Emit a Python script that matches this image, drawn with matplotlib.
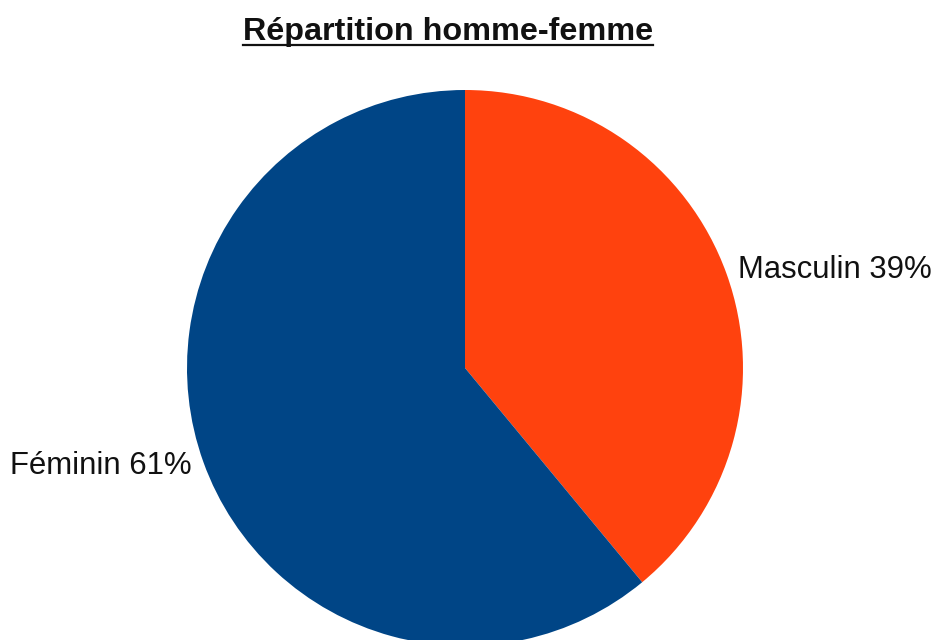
import numpy as np
import matplotlib.pyplot as plt
from matplotlib.lines import Line2D

plt.rcParams['font.family'] = ['Liberation Sans', 'DejaVu Sans']

categories = ['Masculin', 'Féminin']
shares = [39, 61]
colors = ['#ff420e', '#004586']
title = 'Répartition homme-femme'

fig = plt.figure(figsize=(9.36, 6.4), dpi=100)
ax = fig.add_axes([0, 0, 1, 1])

labels = [f'{c} {v}%' for c, v in zip(categories, shares)]
wedges, texts = ax.pie(shares, labels=labels, colors=colors, startangle=90,
                       counterclock=False, center=(465, 272), radius=278,
                       labeldistance=1.045, frame=True,
                       textprops={'fontsize': 22.4, 'color': '#111111'})
ax.axis('off')
ax.set_xlim(0, 936)
ax.set_ylim(0, 640)
ax.set_aspect('equal')

# pie picks alignment from absolute x, fix it for the shifted center
for w, txt in zip(wedges, texts):
    mid = np.deg2rad((w.theta1 + w.theta2) / 2)
    txt.set_ha('left' if np.cos(mid) > 0 else 'right')

t = fig.text(0.479, 0.950, title, ha='center', va='center',
             fontsize=23.3, fontweight='bold', color='#111111')

# underline the title
fig.canvas.draw()
bb = t.get_window_extent()
y = bb.y0 + 2
fig.add_artist(Line2D([bb.x0 / 936, bb.x1 / 936], [y / 640, y / 640],
                      color='#111111', linewidth=1.6))

fig.savefig('out.png', dpi=100)
